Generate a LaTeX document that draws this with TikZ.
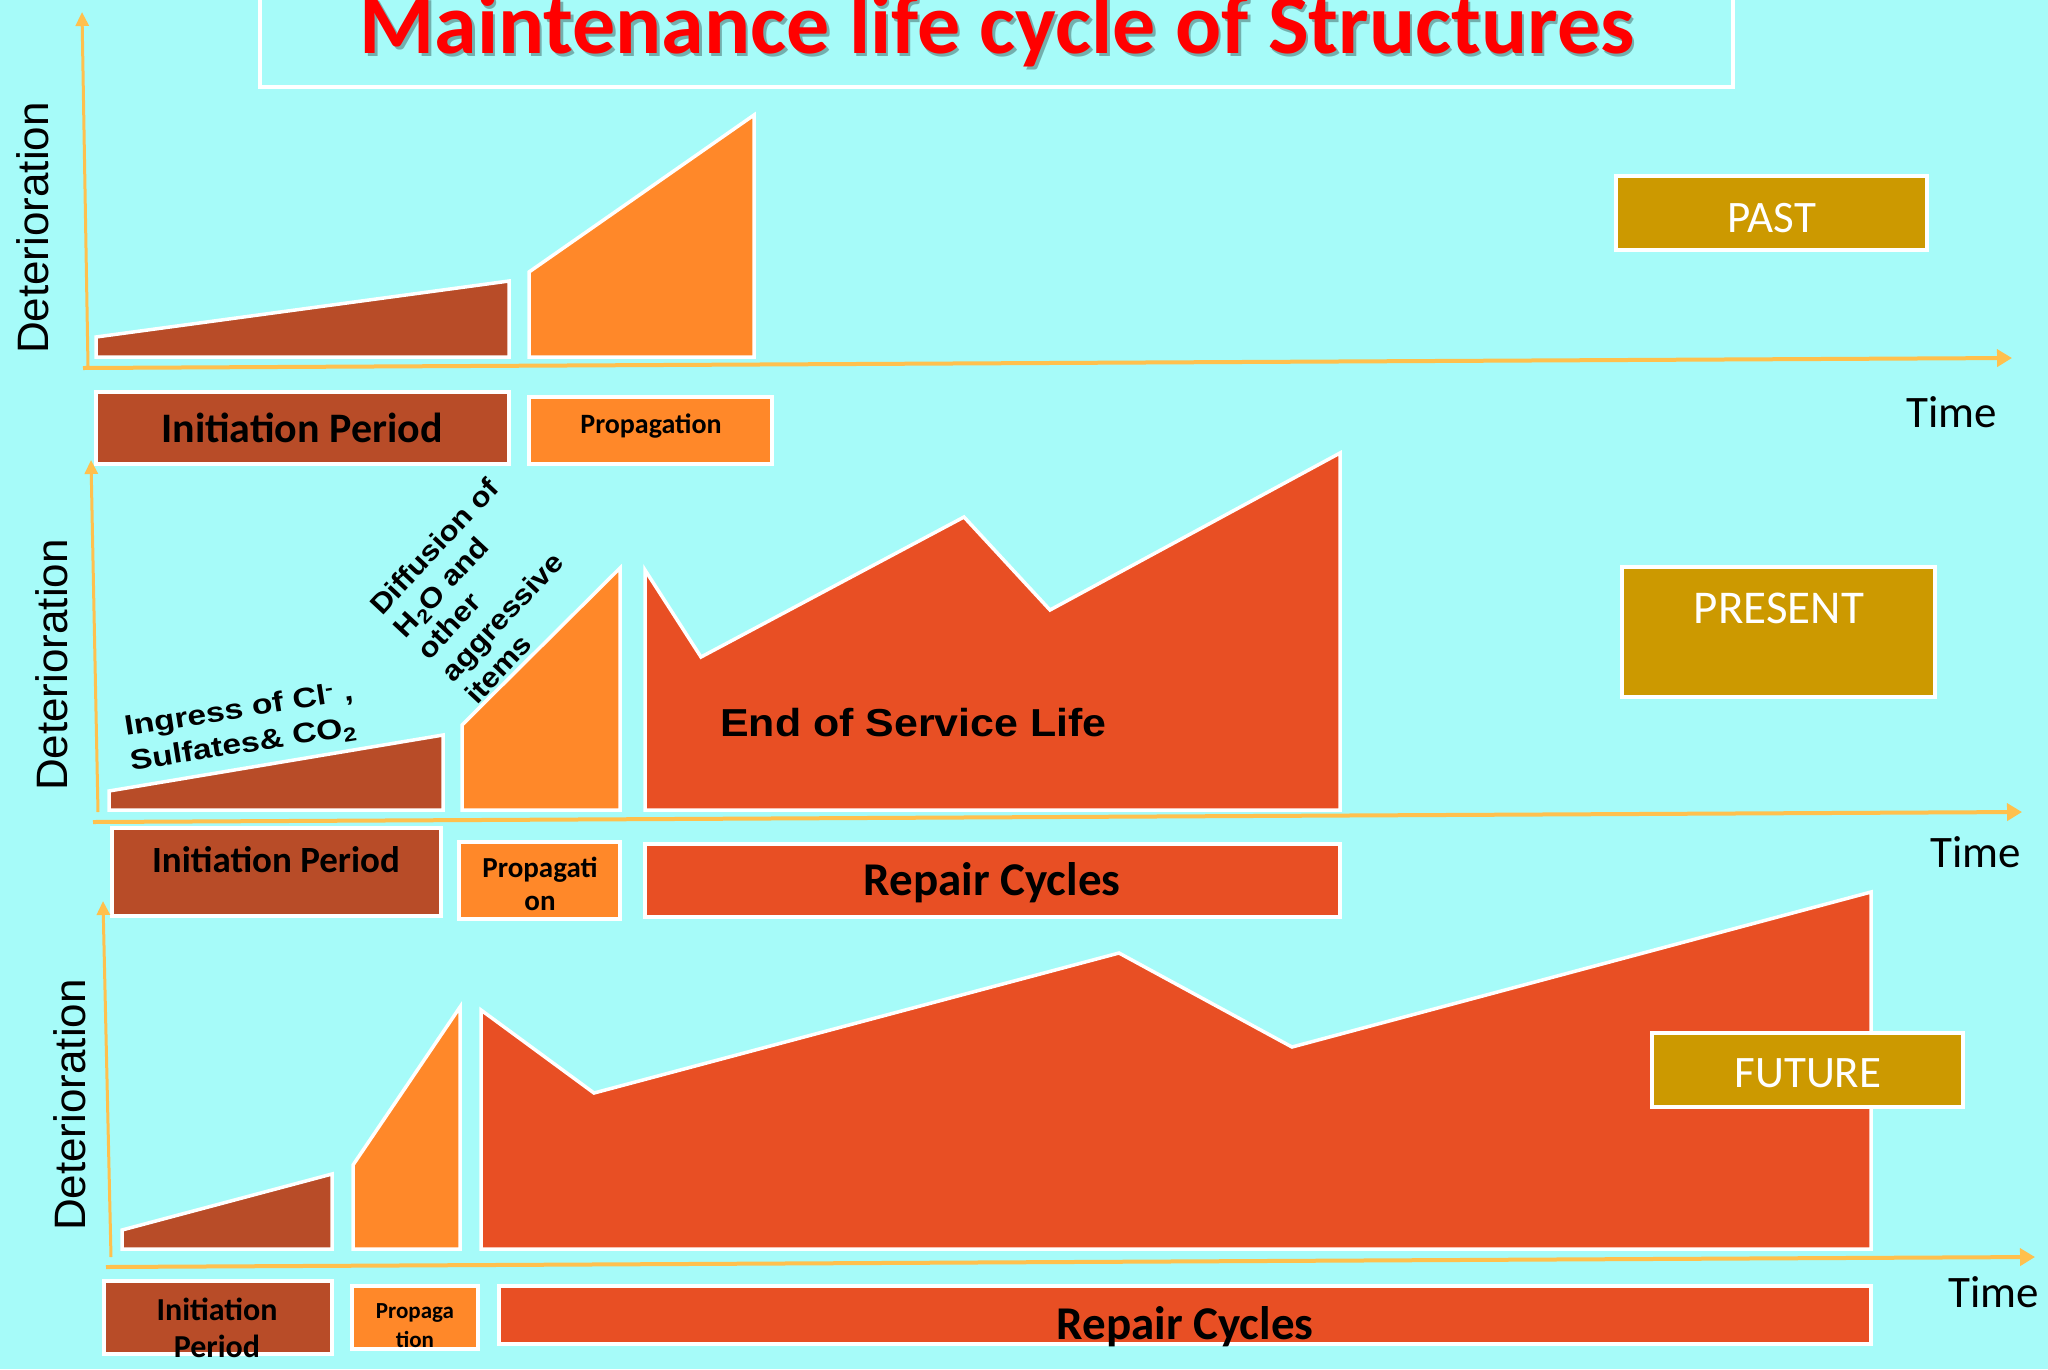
\documentclass[tikz,border=0pt]{standalone}
\usepackage{fontspec}
\setmainfont{Carlito}
\newfontfamily\arialf{Liberation Sans}
\usetikzlibrary{arrows.meta}
\definecolor{bgc}{RGB}{166,251,249}
\definecolor{brn}{RGB}{184,76,40}
\definecolor{orn}{RGB}{255,136,41}
\definecolor{rdo}{RGB}{232,79,36}
\definecolor{gld}{RGB}{204,153,0}
\definecolor{axc}{RGB}{255,192,77}
\begin{document}
\begin{tikzpicture}[x=1pt,y=-1pt,
  poly/.style={draw=white,line width=3.5pt,line join=miter},
  lbox/.style={draw=white,line width=4pt},
  gbox/.style={draw=white,line width=4.5pt,fill=gld},
  xax/.style={draw=axc,line width=4pt,-{Triangle[length=15pt,width=17pt]}},
  yax/.style={draw=axc,line width=3pt,-{Triangle[length=14pt,width=13pt]}},
  txt/.style={inner sep=0pt,anchor=base},
  calb/.style={txt,font=\bfseries\fontsize{#1}{#1}\selectfont},
  calr/.style={txt,font=\fontsize{#1}{#1}\selectfont},
  arb/.style={inner sep=0pt,anchor=base west,font=\arialf\bfseries\fontsize{#1}{#1}\selectfont},
  note/.style={inner sep=0pt,anchor=base west,font=\arialf\bfseries\fontsize{28}{#1}\selectfont},
  det/.style={inner sep=0pt,rotate=90,font=\arialf\fontsize{44}{44}\selectfont}
]
\useasboundingbox (0,0) rectangle (2048,1369);
\clip (0,0) rectangle (2048,1369);
\fill[bgc] (0,0) rectangle (2048,1369);

% title
\draw[draw=white,line width=4pt] (260,-10) rectangle (1733,87);
\node[calb=86,text=black,opacity=0.3] (titleshadow) at (999.5,56) {Maintenance life cycle of Structures};
\node[calb=86,text=red] (title) at (997,53) {Maintenance life cycle of Structures};

% ===== panel 1 (PAST)
\coordinate (y1a) at (88,366); \coordinate (y1b) at (82,12);
\coordinate (x1a) at (83,368); \coordinate (x1b) at (2012,358);
\draw[yax] (y1a) -- (y1b);
\draw[xax] (x1a) -- (x1b);
\filldraw[poly,fill=brn] (96,357) -- (96,337) -- (509,281) -- (509,357) -- cycle;
\filldraw[poly,fill=orn] (529,357) -- (529,272) -- (754,115) -- (754,357) -- cycle;
\filldraw[lbox,fill=brn] (96,392) rectangle (509,464);
\filldraw[lbox,fill=orn] (529,397) rectangle (772,464);
\node[calb=42] (ip1) at (302,442) {Initiation Period};
\node[calb=28] (pr1) at (651,433) {Propagation};
\node[calr=45] (time1) at (1952,427) {Time};
\filldraw[gbox] (1616,176) rectangle (1927,250);
\node[calr=45,text=white] (past) at (1772,232) {PAST};
\node[det] (det1) at (33,228) {Deterioration};

% ===== panel 2 (PRESENT)
\coordinate (y2a) at (98,812); \coordinate (y2b) at (91,460);
\coordinate (x2a) at (93,822); \coordinate (x2b) at (2022,812);
\draw[yax] (y2a) -- (y2b);
\draw[xax] (x2a) -- (x2b);
\filldraw[poly,fill=brn] (109,810) -- (109,791) -- (443,735) -- (443,810) -- cycle;
\filldraw[poly,fill=orn] (462,810) -- (462,725) -- (620,568) -- (620,810) -- cycle;
\filldraw[poly,fill=rdo] (645,810) -- (645,570) -- (701,657) -- (964,517) -- (1050,610) -- (1340,453) -- (1340,810) -- cycle;
\filldraw[lbox,fill=brn] (112,828) rectangle (441,916);
\filldraw[lbox,fill=orn] (459,842) rectangle (620,919);
\filldraw[lbox,fill=rdo] (645,844) rectangle (1340,917);
\node[calb=37] (ip2) at (276,872) {Initiation Period};
\node[calb=29] (pr2a) at (540,877) {Propagati};
\node[calb=29] (pr2b) at (540,910) {on};
\node[calb=47] (rc2) at (992,895) {Repair Cycles};
\node[calr=45] (time2) at (1976,867) {Time};
\filldraw[gbox] (1622,567) rectangle (1935,697);
\node[calr=47,text=white] (present) at (1779,623) {PRESENT};
\node[det] (det2) at (52,665) {Deterioration};
\node[arb=39,xscale=1.1] (eosl) at (720,736) {End of Service Life};
\node[note=35,rotate=9,xscale=1.2] (ingress) at (126,736)
  {\begin{tabular}[t]{@{}l@{}}Ingress of Cl\textsuperscript{-} ,\\Sulfates\& CO\textsubscript{2}\end{tabular}};
\node[note=32.5,rotate=47,xscale=1.12] (diffusion) at (382,617)
  {\begin{tabular}[t]{@{}l@{}}Diffusion of\\H\textsubscript{2}O and\\other\\aggressive\\items\end{tabular}};

% ===== panel 3 (FUTURE)
\coordinate (y3a) at (111,1257); \coordinate (y3b) at (103,901);
\coordinate (x3a) at (106,1267); \coordinate (x3b) at (2035,1257);
\draw[yax] (y3a) -- (y3b);
\draw[xax] (x3a) -- (x3b);
\filldraw[poly,fill=brn] (122,1249) -- (122,1230) -- (332,1174) -- (332,1249) -- cycle;
\filldraw[poly,fill=orn] (353,1249) -- (353,1165) -- (460,1007) -- (460,1249) -- cycle;
\filldraw[poly,fill=rdo] (481,1249) -- (481,1010) -- (594,1093) -- (1119,953) -- (1292,1047) -- (1871,892) -- (1871,1249) -- cycle;
\filldraw[gbox] (1652,1033) rectangle (1963,1107);
\node[calr=45,text=white] (future) at (1808,1087) {FUTURE};
\filldraw[lbox,fill=brn] (104,1281) rectangle (332,1354);
\filldraw[lbox,fill=orn] (352,1286) rectangle (478,1349);
\filldraw[lbox,fill=rdo] (499,1286) rectangle (1871,1344);
\node[calb=32] (ip3a) at (217,1320) {Initiation};
\node[calb=32] (ip3b) at (217,1357) {Period};
\node[calb=23] (pr3a) at (415,1318) {Propaga};
\node[calb=23] (pr3b) at (415,1347) {tion};
\node[calb=47] (rc3) at (1185,1339) {Repair Cycles};
\node[calr=45] (time3) at (1994,1307) {Time};
\node[det] (det3) at (70,1105) {Deterioration};
\end{tikzpicture}
\end{document}
